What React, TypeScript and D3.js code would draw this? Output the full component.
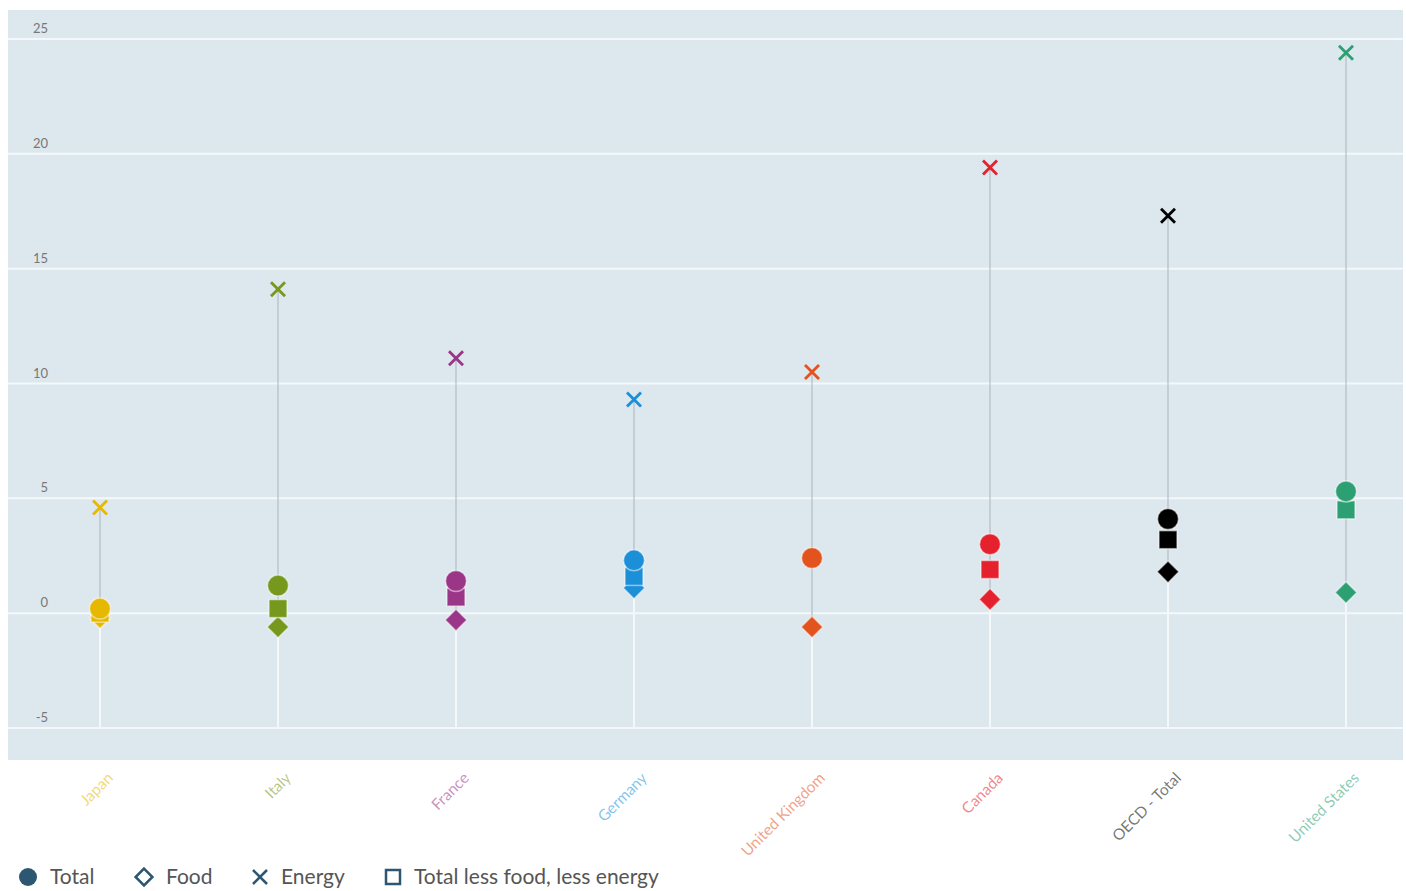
import React from "react";
import * as d3 from "d3";

const categories = ["Japan", "Italy", "France", "Germany", "United Kingdom", "Canada", "OECD - Total", "United States"];
const colors = ["#e6b800", "#76981c", "#9b3588", "#1b8fd8", "#e2531d", "#e4212c", "#000000", "#2ca072"];
const totalValues = [0.2, 1.2, 1.4, 2.3, 2.4, 3.0, 4.1, 5.3];
const foodValues = [-0.2, -0.6, -0.3, 1.1, -0.6, 0.6, 1.8, 0.9];
const energyValues = [4.6, 14.1, 11.1, 9.3, 10.5, 19.4, 17.3, 24.4];
const coreValues: (number | null)[] = [0.0, 0.2, 0.7, 1.6, null, 1.9, 3.2, 4.5];
const yTicks = [-5, 0, 5, 10, 15, 20, 25];
const legendItems = ["Total", "Food", "Energy", "Total less food, less energy"];

const W = 1406;
const H = 891;
const plot = { left: 8, right: 1403, top: 10, bottom: 760 };

export default function App() {
  const y = d3.scaleLinear().domain([-5, 25]).range([728, 39]);
  const x = d3.scalePoint<string>().domain(categories).range([100, 1346]);
  const diamond = d3.symbol().type(d3.symbolDiamond2).size(300)();
  const legendFill = "#2d5673";

  return (
    <svg width={W} height={H} style={{ position: "absolute", left: 0, top: 0, fontFamily: "Lato, 'Open Sans', sans-serif" }}>
      <rect x={plot.left} y={plot.top} width={plot.right - plot.left} height={plot.bottom - plot.top} fill="#dde8ee" />
      {yTicks.map((t) => (
        <g key={t}>
          <line x1={plot.left} x2={plot.right} y1={y(t)} y2={y(t)} stroke="#f4f8fa" strokeWidth={2} />
          <text x={48} y={y(t) - 6} textAnchor="end" fontSize={13} fill="#777">{t}</text>
        </g>
      ))}
      {categories.map((c, i) => {
        const cx = x(c)!;
        const vals = [totalValues[i], foodValues[i], energyValues[i], coreValues[i]].filter((v) => v != null) as number[];
        const mx = d3.max(vals)!;
        const mn = d3.min(vals)!;
        const col = colors[i];
        const core = coreValues[i];
        return (
          <g key={c}>
            <line x1={cx} x2={cx} y1={y(mn)} y2={y(-5)} stroke="#f4f8fa" strokeWidth={2} />
            <line x1={cx} x2={cx} y1={y(mx)} y2={y(mn)} stroke="#a9b4bb" strokeWidth={1} />
            <path d={diamond!} transform={`translate(${cx},${y(foodValues[i])})`} fill={col} stroke="#ffffff" strokeOpacity={0.5} strokeWidth={1.5} />
            {core != null && (
              <rect x={cx - 9} y={y(core) - 9} width={18} height={18} fill={col} stroke="#ffffff" strokeOpacity={0.5} strokeWidth={1.5} />
            )}
            <circle cx={cx} cy={y(totalValues[i])} r={10.5} fill={col} stroke="#ffffff" strokeOpacity={0.5} strokeWidth={1.5} />
            <g transform={`translate(${cx},${y(energyValues[i])})`} stroke={col} strokeWidth={2.8}>
              <line x1={-7} y1={-7} x2={7} y2={7} />
              <line x1={-7} y1={7} x2={7} y2={-7} />
            </g>
            <text
              transform={`translate(${cx + 14},${779}) rotate(-45)`}
              textAnchor="end"
              fontSize={15.5}
              fill={col}
              fillOpacity={0.55}
            >
              {c}
            </text>
          </g>
        );
      })}
      <g transform="translate(0,877)">
        <circle cx={28} cy={0} r={9} fill={legendFill} />
        <text x={50} y={7} fontSize={21} fill="#555">{legendItems[0]}</text>
        <path d={d3.symbol().type(d3.symbolDiamond2).size(180)()!} transform="translate(144,0)" fill="none" stroke={legendFill} strokeWidth={2.5} />
        <text x={166} y={7} fontSize={21} fill="#555">{legendItems[1]}</text>
        <g transform="translate(260,0)" stroke={legendFill} strokeWidth={2.5}>
          <line x1={-7} y1={-7} x2={7} y2={7} />
          <line x1={-7} y1={7} x2={7} y2={-7} />
        </g>
        <text x={281} y={7} fontSize={21} fill="#555">{legendItems[2]}</text>
        <rect x={386} y={-7} width={14} height={14} fill="none" stroke={legendFill} strokeWidth={2.5} />
        <text x={414} y={7} fontSize={21} fill="#555">{legendItems[3]}</text>
      </g>
    </svg>
  );
}
